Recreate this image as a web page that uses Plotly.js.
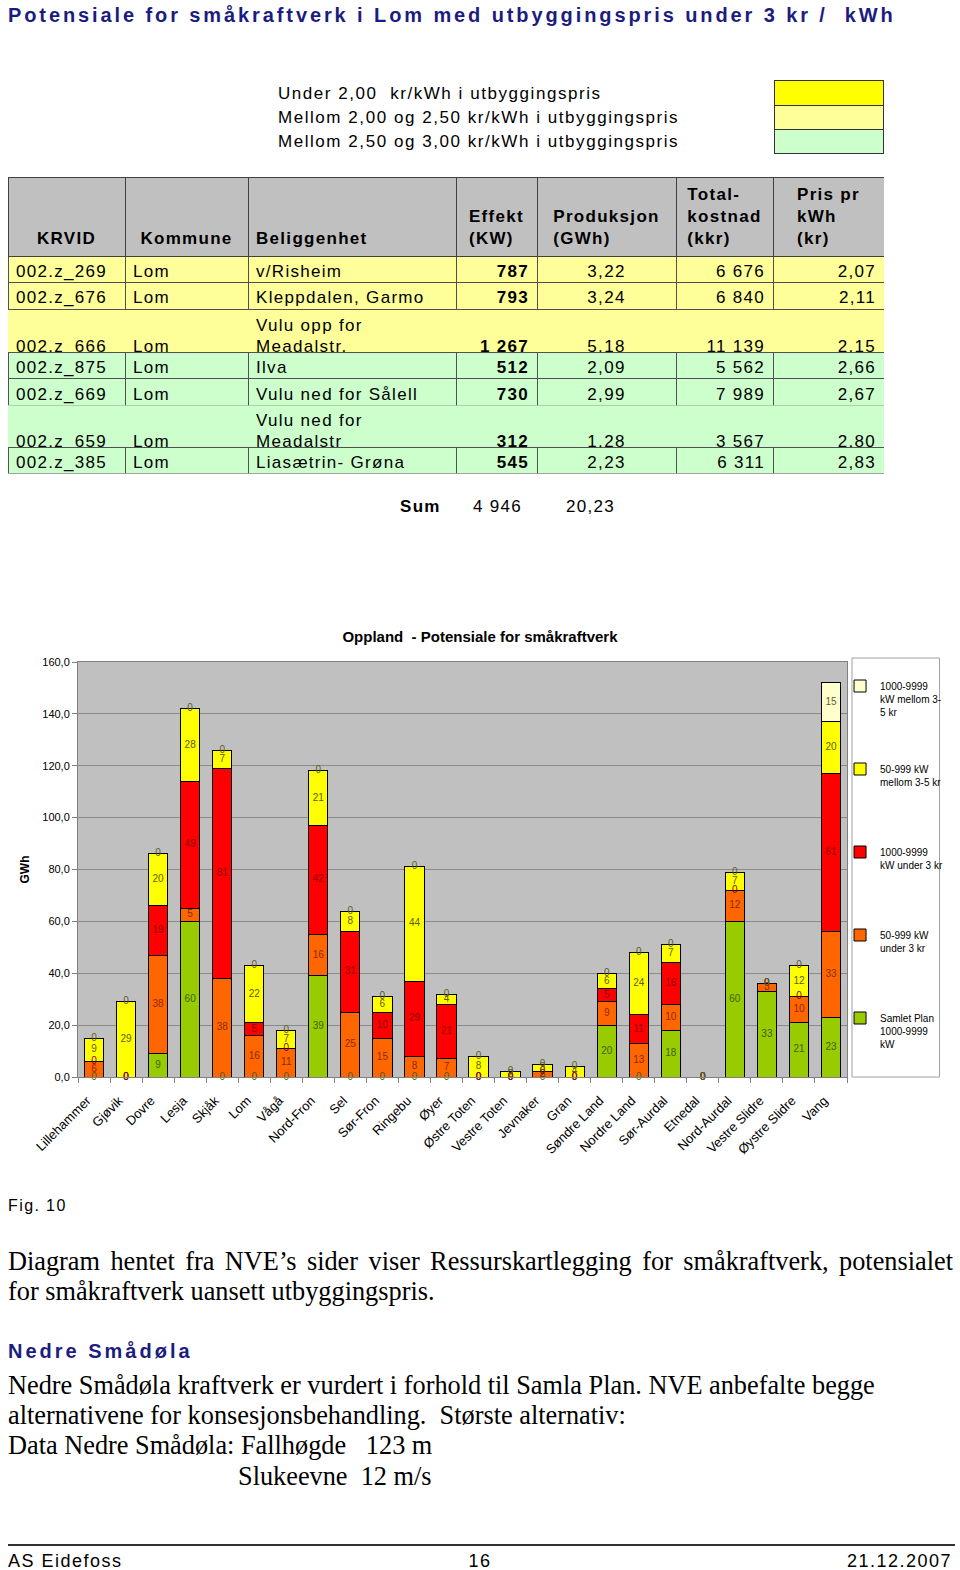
<!DOCTYPE html>
<html>
<head>
<meta charset="utf-8">
<script src="https://cdn.plot.ly/plotly-3.0.1.min.js"></script>
<style>
  body { margin: 0; background: #fff; }
  #page { position: relative; width: 960px; height: 1570px; overflow: hidden; font-family: "Liberation Sans", Arial, sans-serif; }
  .abs { position: absolute; white-space: pre; }
  .sans { font-family: "Liberation Sans", Arial, sans-serif; letter-spacing: 1.3px; }
  .serif { font-family: "Liberation Serif", "Times New Roman", serif; font-size: 26.3px; line-height: 30px; }
  #table text { letter-spacing: 1.3px; }
  .box { position: absolute; left: 774px; width: 108px; border: 1px solid #333; }
</style>
</head>
<body>
<div id="page">
  <div class="abs" style="left:8px; top:4px; font-size:20px; line-height:22px; font-weight:bold; color:#1c1c80; letter-spacing:2.9px;">Potensiale for småkraftverk i Lom med utbyggingspris under 3 kr /  kWh</div>

  <div class="abs sans" id="priceLegend" style="left:278px; top:82px; font-size:17px; line-height:24px; letter-spacing:1.55px;"></div>

  <div id="table" style="position:absolute; left:8px; top:177px; width:876px; height:297px;"></div>

  <div class="abs sans" style="left:400px; top:497px; font-size:17px; line-height:20px; font-weight:bold;">Sum</div>
  <div class="abs sans" id="sumEffekt" style="left:473px; top:497px; font-size:17px; line-height:20px;"></div>
  <div class="abs sans" id="sumProd" style="left:566px; top:497px; font-size:17px; line-height:20px;"></div>

  <div id="chart" style="position:absolute; left:0; top:620px; width:960px; height:560px;"></div>

  <div class="abs sans" style="left:8px; top:1197px; font-size:16px; line-height:18px; letter-spacing:1.4px;">Fig. 10</div>

  <div class="abs serif" style="left:8px; top:1247px; width:945px; text-align:justify; text-align-last:justify; white-space:normal;">Diagram hentet fra NVE’s sider viser Ressurskartlegging for småkraftverk, potensialet</div>
  <div class="abs serif" style="left:8px; top:1277px;">for småkraftverk uansett utbyggingspris.</div>

  <div class="abs" style="left:8px; top:1340px; font-size:20px; line-height:22px; font-weight:bold; color:#1c1c80; letter-spacing:3px;">Nedre Smådøla</div>

  <div class="abs serif" style="left:8px; top:1371px;">Nedre Smådøla kraftverk er vurdert i forhold til Samla Plan. NVE anbefalte begge</div>
  <div class="abs serif" style="left:8px; top:1401px;">alternativene for konsesjonsbehandling.  Største alternativ:</div>
  <div class="abs serif" style="left:8px; top:1431px;">Data Nedre Smådøla: Fallhøgde   123 m</div>
  <div class="abs serif" style="left:238px; top:1462px;">Slukeevne  12 m/s</div>

  <div style="position:absolute; left:8px; top:1544px; width:947px; height:2px; background:#333;"></div>
  <div class="abs sans" style="left:8px; top:1551px; font-size:18px; line-height:20px; letter-spacing:1.5px;">AS Eidefoss</div>
  <div class="abs sans" style="left:0; top:1551px; width:960px; text-align:center; font-size:18px; line-height:20px; letter-spacing:1.5px;">16</div>
  <div class="abs sans" style="left:0; top:1551px; width:952px; text-align:right; font-size:18px; line-height:20px; letter-spacing:1.5px;">21.12.2007</div>
</div>

<script>
// Price classes shown above the table
const priceClasses = ['Under 2,00  kr/kWh i utbyggingspris', 'Mellom 2,00 og 2,50 kr/kWh i utbyggingspris', 'Mellom 2,50 og 3,00 kr/kWh i utbyggingspris'];
const priceClassColors = ['#ffff00', '#ffff99', '#ccffcc'];

// Table data
const krvid = ['002.z_269', '002.z_676', '002.z_666', '002.z_875', '002.z_669', '002.z_659', '002.z_385'];
const kommune = ['Lom', 'Lom', 'Lom', 'Lom', 'Lom', 'Lom', 'Lom'];
const beliggenhet = ['v/Risheim', 'Kleppdalen, Garmo', 'Vulu opp for<br>Meadalstr.', 'Ilva', 'Vulu ned for Sålell', 'Vulu ned for<br>Meadalstr', 'Liasætrin- Grøna'];
const effekt = [787, 793, 1267, 512, 730, 312, 545];
const produksjon = [3.22, 3.24, 5.18, 2.09, 2.99, 1.28, 2.23];
const totalkostnad = [6676, 6840, 11139, 5562, 7989, 3567, 6311];
const prisPrKwh = [2.07, 2.11, 2.15, 2.66, 2.67, 2.80, 2.83];

// Chart data (GWh)
const kommuner = ['Lillehammer', 'Gjøvik', 'Dovre', 'Lesja', 'Skjåk', 'Lom', 'Vågå', 'Nord-Fron', 'Sel', 'Sør-Fron', 'Ringebu', 'Øyer',
  'Østre Toten', 'Vestre Toten', 'Jevnaker', 'Gran', 'Søndre Land', 'Nordre Land', 'Sør-Aurdal', 'Etnedal', 'Nord-Aurdal', 'Vestre Slidre', 'Øystre Slidre', 'Vang'];
const samletPlan  = [0, 0, 9, 60, 0, 0, 0, 39, 0, 0, 0, 0, 0, 0, 0, 0, 20, 0, 18, 0, 60, 33, 21, 23];
const under3Small = [6, 0, 38, 5, 38, 16, 11, 16, 25, 15, 8, 7, 0, 0, 2, 0, 9, 13, 10, 0, 12, 3, 10, 33];
const under3Large = [0, 0, 19, 49, 81, 5, 0, 42, 31, 10, 29, 21, 0, 0, 0, 0, 5, 11, 16, 0, 0, 0, 0, 61];
const mellomSmall = [9, 29, 20, 28, 7, 22, 7, 21, 8, 6, 44, 4, 8, 2, 3, 4, 6, 24, 7, 0, 7, 0, 12, 20];
const mellomLarge = [0, 0, 0, 0, 0, 0, 0, 0, 0, 0, 0, 0, 0, 0, 0, 0, 0, 0, 0, 0, 0, 0, 0, 15];

const seriesNames = ['Samlet Plan<br>1000-9999<br>kW', '50-999 kW<br>under 3 kr<br>\u00a0', '1000-9999<br>kW under 3 kr<br>\u00a0',
  '50-999 kW<br>mellom 3-5 kr<br>\u00a0', '1000-9999<br>kW mellom 3-<br>5 kr'];
const seriesColors = ['#99cc00', '#ff6600', '#ff0000', '#ffff00', '#ffffcc'];
const labelColors = ['#3f5f00', '#8a2a00', '#8a0000', '#5c5c00', '#5c5c30'];

// Price legend with coloured boxes
document.getElementById('priceLegend').innerHTML = priceClasses.join('\n');
const boxHeights = [24, 23, 23];
let boxTop = 80;
priceClassColors.forEach(function(c, i) {
  const d = document.createElement('div');
  d.className = 'box';
  d.style.top = boxTop + 'px';
  d.style.height = boxHeights[i] + 'px';
  d.style.background = c;
  document.getElementById('page').appendChild(d);
  boxTop += boxHeights[i] + 1;
});

// Number formatting, Norwegian style
function fmtInt(n) {
  return String(n).replace(/\B(?=(\d{3})+(?!\d))/g, ' ');
}
function fmtDec(n) {
  return n.toFixed(2).replace('.', ',');
}
function rowColor(p) {
  if (p < 2) return priceClassColors[0];
  if (p < 2.5) return priceClassColors[1];
  return priceClassColors[2];
}

function rowValues(i) {
  return [krvid[i], kommune[i], beliggenhet[i], fmtInt(effekt[i]), fmtDec(produksjon[i]), fmtInt(totalkostnad[i]), fmtDec(prisPrKwh[i])];
}

// The table is made of several table traces stacked on top of each other,
// so that rows with two lines can be taller than the others.
// Each block uses its first row as the plotly "header".
const headerH = 80, rowH = 26.5, subRowH = 21;
const colWidths = [117, 123, 208, 81, 139, 97, 111];
const cellAlign = ['left', 'left', 'left', 'right', 'center', 'right', 'right'];
const cellFont = {
  family: 'Liberation Sans, Arial', size: 17, color: '#000',
  weight: ['normal', 'normal', 'normal', 'bold', 'normal', 'normal', 'normal']
};
const darkLine = '#505050';

const sections = [{split: false, rows: [], header: true}];
beliggenhet.forEach(function(b, i) {
  const last = sections[sections.length - 1];
  if (b.indexOf('<br>') >= 0) {
    sections.push({split: true, rows: [i]});
  } else if (last.split) {
    sections.push({split: false, rows: [i]});
  } else {
    last.rows.push(i);
  }
});

let y = 0;
sections.forEach(function(s) {
  s.top = y;
  s.height = (s.header ? headerH : 0) + (s.split ? 2 * subRowH : s.rows.length * rowH);
  y += s.height;
});
const tableH = y;

function block(rows, height, lineColor) {
  // rows: list of row value arrays, one per table row
  return {
    values: colWidths.map((w, k) => rows.map(r => r.vals[k])),
    align: cellAlign,
    fill: {color: colWidths.map(() => rows.map(r => r.color))},
    line: {color: lineColor, width: 1},
    font: cellFont,
    height: height
  };
}

const tableTraces = sections.map(function(s) {
  let rows, h, lineColor;
  if (s.split) {
    const vals = rowValues(s.rows[0]);
    const c = rowColor(prisPrKwh[s.rows[0]]);
    const lines = vals[2].split('<br>');
    rows = [
      {vals: vals.map((v, k) => k === 2 ? lines[0] : ''), color: c},
      {vals: vals.map((v, k) => k === 2 ? lines[1] : v), color: c}
    ];
    h = subRowH;
    lineColor = c;
  } else {
    rows = s.rows.map(i => ({vals: rowValues(i), color: rowColor(prisPrKwh[i])}));
    h = rowH;
    lineColor = darkLine;
  }
  let header, cells;
  if (s.header) {
    header = {
      values: ['\u00a0<br>\u00a0<br><b>KRVID</b>', '\u00a0<br>\u00a0<br><b>Kommune</b>', '\u00a0<br>\u00a0<br><b>Beliggenhet</b>',
        '\u00a0<br><b>Effekt</b><br><b>(KW)</b>', '\u00a0<br><b>Produksjon</b><br><b>(GWh)</b>',
        '<b>Total-</b><br><b>kostnad</b><br><b>(kkr)</b>', '<b>Pris pr</b><br><b>kWh</b><br><b>(kr)</b>'],
      align: ['center', 'center', 'left', 'center', 'center', 'center', 'center'],
      fill: {color: '#c0c0c0'},
      line: {color: '#404040', width: 1},
      font: {family: 'Liberation Sans, Arial', size: 17, color: '#000'},
      height: 70
    };
    cells = block(rows, h, lineColor);
  } else {
    header = block([rows[0]], h, lineColor);
    header.values = header.values.map(col => col[0]);
    header.fill = {color: rows[0].color};
    cells = block(rows.slice(1), h, lineColor);
  }
  return {
    type: 'table',
    domain: {x: [0, 1], y: [1 - (s.top + s.height) / tableH, 1 - s.top / tableH]},
    columnwidth: colWidths,
    header: header,
    cells: cells
  };
});

// Split rows first, so the dark borders of their neighbours are drawn on top
const tableData = tableTraces.filter((t, k) => sections[k].split).concat(tableTraces.filter((t, k) => !sections[k].split));

Plotly.newPlot('table', tableData, {
  margin: {l: 0, r: 0, t: 0, b: 0},
  width: 876,
  height: tableH,
  paper_bgcolor: 'rgba(0,0,0,0)'
}, {displayModeBar: false});

// Sums below the table
document.getElementById('sumEffekt').textContent = fmtInt(effekt.reduce((t, v) => t + v, 0));
document.getElementById('sumProd').textContent = fmtDec(produksjon.reduce((t, v) => t + v, 0));

// Stacked bar chart
const series = [samletPlan, under3Small, under3Large, mellomSmall, mellomLarge];
const bars = [];
const labels = [];
const base = kommuner.map(() => 0);

series.forEach(function(vals, i) {
  bars.push({
    type: 'bar',
    x: kommuner,
    y: vals,
    name: seriesNames[i],
    legendgroup: 'g' + i,
    legendrank: 10 - i,
    marker: {color: seriesColors[i], line: {color: '#000', width: 1}},
    hoverinfo: 'skip'
  });
  labels.push({
    type: 'scatter',
    mode: 'text',
    x: kommuner,
    y: vals.map((v, j) => base[j] + v / 2),
    text: vals.map(String),
    textposition: 'middle center',
    textfont: {family: 'Liberation Sans, Arial', size: 10, color: labelColors[i]},
    legendgroup: 'g' + i,
    showlegend: false,
    hoverinfo: 'skip',
    cliponaxis: false
  });
  vals.forEach((v, j) => { base[j] += v; });
});

const chartLayout = {
  width: 960,
  height: 560,
  margin: {l: 78, r: 109, t: 42, b: 103},
  paper_bgcolor: 'rgba(0,0,0,0)',
  plot_bgcolor: '#c0c0c0',
  barmode: 'stack',
  bargap: 0.4,
  separators: ', ',
  font: {family: 'Liberation Sans, Arial', color: '#000'},
  title: {
    text: '<b>Oppland  - Potensiale for småkraftverk</b>',
    font: {size: 15, family: 'Liberation Sans, Arial', color: '#000'},
    x: 0.5, xanchor: 'center', xref: 'container',
    y: 1 - 17 / 560, yanchor: 'middle', yref: 'container'
  },
  xaxis: {
    type: 'category',
    range: [-0.5, kommuner.length - 0.5],
    tickangle: -45,
    tickfont: {size: 13},
    ticks: 'outside',
    tickson: 'boundaries',
    ticklen: 5,
    tickcolor: '#808080',
    ticklabelstandoff: 10,
    ticklabelshift: -7,
    showline: true,
    linecolor: '#808080',
    mirror: true,
    automargin: false
  },
  yaxis: {
    range: [0, 160],
    dtick: 20,
    tickformat: '.1f',
    tickfont: {size: 11},
    ticks: 'outside',
    ticklen: 5,
    tickcolor: '#808080',
    gridcolor: '#8a8a8a',
    showline: true,
    linecolor: '#808080',
    mirror: true,
    zeroline: false,
    automargin: false,
    title: {text: '<b>GWh</b>', font: {size: 12}, standoff: 10}
  },
  legend: {
    x: (844 - 78) / 773,
    xanchor: 'left',
    y: 1 - (673 - 662) / 415,
    yanchor: 'top',
    traceorder: 'grouped',
    tracegroupgap: 41,
    valign: 'top',
    bgcolor: 'rgba(0,0,0,0)',
    font: {size: 10, family: 'Liberation Sans, Arial'}
  },
  shapes: [{
    type: 'rect', xref: 'paper', yref: 'paper',
    x0: (856 - 78) / 773, x1: (944 - 78) / 773,
    y0: 0, y1: (1077 - 658) / 415,
    line: {color: '#a0a0a0', width: 1},
    fillcolor: '#fff',
    layer: 'below'
  }],
  showlegend: true
};

Plotly.newPlot('chart', bars.concat(labels), chartLayout, {displayModeBar: false});
</script>
</body>
</html>
